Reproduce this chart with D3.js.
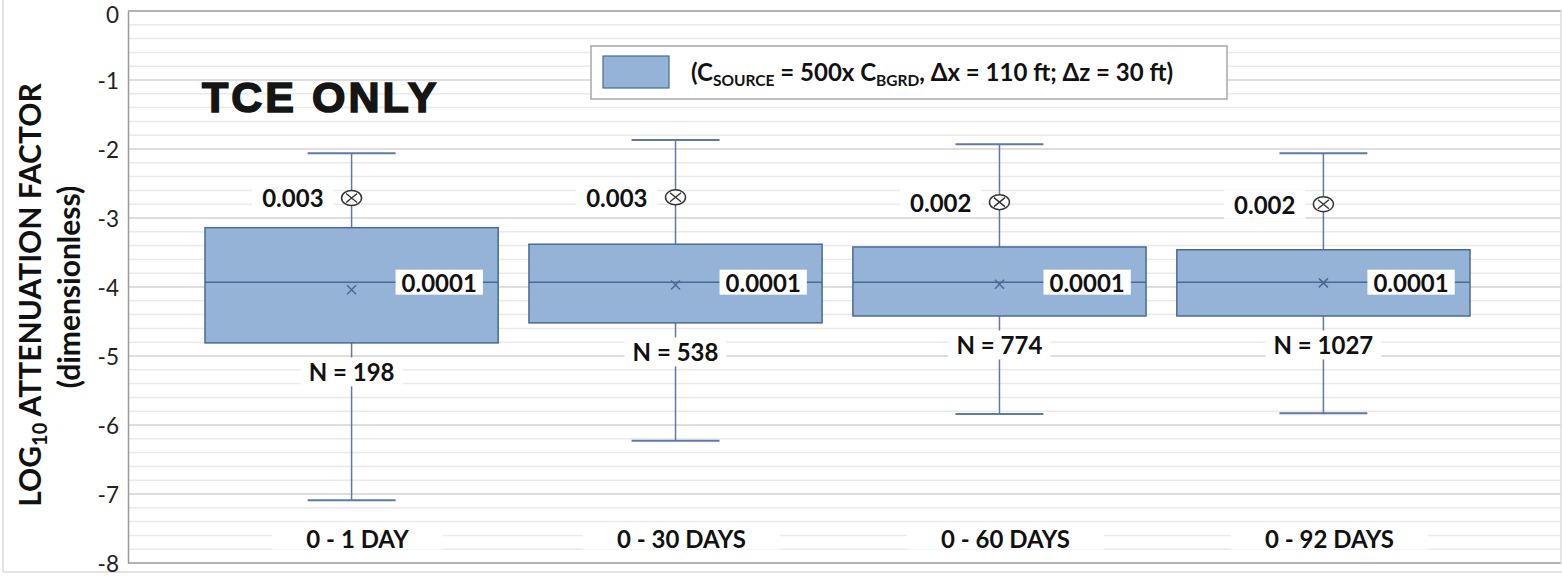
<!DOCTYPE html>
<html>
<head>
<meta charset="utf-8">
<script src="https://cdn.jsdelivr.net/npm/d3@7"></script>
<style>
  html, body { margin: 0; padding: 0; background: #fff; }
  svg { display: block; }
</style>
</head>
<body>
<svg id="chart" width="1562" height="577"></svg>
<script>
// ---- data (log10 attenuation factor) ----
const categories   = ["0 - 1 DAY", "0 - 30 DAYS", "0 - 60 DAYS", "0 - 92 DAYS"];
const whiskerHigh  = [-2.06, -1.87, -1.93, -2.06];
const q3           = [-3.14, -3.38, -3.42, -3.46];
const median       = [-3.93, -3.93, -3.93, -3.93];
const q1           = [-4.81, -4.52, -4.42, -4.42];
const whiskerLow   = [-7.09, -6.23, -5.84, -5.83];
const mean         = [-4.04, -3.97, -3.96, -3.94];
const upperMarker  = [-2.71, -2.70, -2.77, -2.80];
const upperLabels  = ["0.003", "0.003", "0.002", "0.002"];
const medianLabels = ["0.0001", "0.0001", "0.0001", "0.0001"];
const counts       = [198, 538, 774, 1027];
const yTicks       = [-8, -7, -6, -5, -4, -3, -2, -1, 0];

// ---- styles ----
const BOX_FILL = "#95b3d7";
const BOX_STROKE = "#4a6a96";
const WHISKER = "#5b7aa6";
const LABEL_FONT = "Lato, 'Open Sans', sans-serif";

const svg = d3.select("#chart");
const plot = { left: 128, right: 1561, top: 11, bottom: 563 };

const y = d3.scaleLinear().domain([-8, 0]).range([plot.bottom, plot.top]);
const x = d3.scaleBand().domain(categories).range([205, 1470]).paddingInner(0.095);

const rows = categories.map((c, i) => ({
  cat: c, hi: whiskerHigh[i], q3: q3[i], med: median[i], q1: q1[i], lo: whiskerLow[i],
  mean: mean[i], marker: upperMarker[i], markerLabel: upperLabels[i],
  medLabel: medianLabels[i], n: counts[i]
}));

// outer chart frame
svg.append("line").attr("x1", 3).attr("x2", 3).attr("y1", 0).attr("y2", 572)
  .attr("stroke", "#dadada").attr("stroke-width", 1.5);
svg.append("line").attr("x1", 3).attr("x2", 1562).attr("y1", 572).attr("y2", 572)
  .attr("stroke", "#dadada").attr("stroke-width", 1.5);

// gridlines: minor every 0.2, major every 1
const grid = svg.append("g");
const minorVals = d3.range(0, 41).map(i => -8 + i * 0.2).filter(v => Math.abs(v - Math.round(v)) > 1e-6);
grid.selectAll("line.minor").data(minorVals).join("line")
  .attr("class", "minor")
  .attr("x1", plot.left).attr("x2", plot.right)
  .attr("y1", d => y(d)).attr("y2", d => y(d))
  .attr("stroke", "#eaeaea").attr("stroke-width", 1.5);
grid.selectAll("line.major").data(yTicks.filter(v => v > -8 && v < 0)).join("line")
  .attr("class", "major")
  .attr("x1", plot.left).attr("x2", plot.right)
  .attr("y1", d => y(d)).attr("y2", d => y(d))
  .attr("stroke", "#d3d3d3").attr("stroke-width", 1.5);

// plot frame
const frame = svg.append("g").attr("stroke", "#9a9a9a").attr("stroke-width", 1.5);
frame.append("line").attr("x1", plot.left).attr("x2", plot.right).attr("y1", plot.top).attr("y2", plot.top);
frame.append("line").attr("x1", plot.left).attr("x2", plot.right).attr("y1", plot.bottom).attr("y2", plot.bottom);
frame.append("line").attr("x1", plot.right).attr("x2", plot.right).attr("y1", plot.top).attr("y2", plot.bottom)
  .attr("stroke", "#dcdcdc");

// y axis
const yAxis = svg.append("g")
  .attr("transform", `translate(${plot.left},0)`)
  .call(d3.axisLeft(y).tickValues(yTicks).tickSize(0).tickPadding(9).tickFormat(d => String(d)));
yAxis.select(".domain").attr("stroke", "#9a9a9a").attr("stroke-width", 1.5);
yAxis.selectAll("text")
  .attr("dy", d => d === 0 ? "0.5em" : "0.36em")
  .attr("font-family", LABEL_FONT).attr("font-size", 22.5).attr("fill", "#222");

// y axis title
const t1 = svg.append("text")
  .attr("transform", `translate(41,295) rotate(-90)`)
  .attr("text-anchor", "middle")
  .attr("font-family", LABEL_FONT).attr("font-weight", 700).attr("font-size", 30).attr("fill", "#111");
t1.append("tspan").text("LOG");
t1.append("tspan").text("10").attr("font-size", 20).attr("dy", 6);
t1.append("tspan").text(" ATTENUATION FACTOR").attr("dy", -6);
svg.append("text")
  .attr("transform", `translate(80,287) rotate(-90)`)
  .attr("text-anchor", "middle")
  .attr("font-family", LABEL_FONT).attr("font-weight", 700).attr("font-size", 30).attr("fill", "#111")
  .text("(dimensionless)");

// boxes
const boxes = svg.append("g");
const bw = x.bandwidth();
const cx = d => x(d.cat) + bw / 2;
const capW = bw * 0.3;

boxes.selectAll("line.whisker-hi").data(rows).join("line")
  .attr("x1", cx).attr("x2", cx).attr("y1", d => y(d.hi)).attr("y2", d => y(d.q3))
  .attr("stroke", WHISKER).attr("stroke-width", 1.5);
boxes.selectAll("line.whisker-lo").data(rows).join("line")
  .attr("x1", cx).attr("x2", cx).attr("y1", d => y(d.q1)).attr("y2", d => y(d.lo))
  .attr("stroke", WHISKER).attr("stroke-width", 1.5);
boxes.selectAll("line.cap-hi").data(rows).join("line")
  .attr("x1", d => cx(d) - capW / 2).attr("x2", d => cx(d) + capW / 2)
  .attr("y1", d => y(d.hi)).attr("y2", d => y(d.hi))
  .attr("stroke", WHISKER).attr("stroke-width", 2);
boxes.selectAll("line.cap-lo").data(rows).join("line")
  .attr("x1", d => cx(d) - capW / 2).attr("x2", d => cx(d) + capW / 2)
  .attr("y1", d => y(d.lo)).attr("y2", d => y(d.lo))
  .attr("stroke", WHISKER).attr("stroke-width", 2);
boxes.selectAll("rect.box").data(rows).join("rect")
  .attr("x", d => x(d.cat)).attr("width", bw)
  .attr("y", d => y(d.q3)).attr("height", d => y(d.q1) - y(d.q3))
  .attr("fill", BOX_FILL).attr("stroke", BOX_STROKE).attr("stroke-width", 1.5);
boxes.selectAll("line.median").data(rows).join("line")
  .attr("x1", d => x(d.cat)).attr("x2", d => x(d.cat) + bw)
  .attr("y1", d => y(d.med)).attr("y2", d => y(d.med))
  .attr("stroke", BOX_STROKE).attr("stroke-width", 1.5);

// mean markers (x)
const ms = 4.5;
boxes.selectAll("path.mean").data(rows).join("path")
  .attr("d", d => {
    const px = cx(d), py = y(d.mean);
    return `M${px - ms},${py - ms}L${px + ms},${py + ms}M${px - ms},${py + ms}L${px + ms},${py - ms}`;
  })
  .attr("stroke", BOX_STROKE).attr("stroke-width", 1.5).attr("fill", "none");

// helper: text with white backing box
function label(g, str, px, py, anchor, size, padX, padY) {
  const grp = g.append("g");
  const rect = grp.append("rect").attr("fill", "#fff");
  const t = grp.append("text")
    .attr("x", px).attr("y", py)
    .attr("text-anchor", anchor).attr("dominant-baseline", "central")
    .attr("font-family", LABEL_FONT).attr("font-weight", 700)
    .attr("font-size", size).attr("fill", "#111")
    .text(str);
  const b = t.node().getBBox();
  rect.attr("x", b.x - padX).attr("y", b.y - padY)
    .attr("width", b.width + 2 * padX).attr("height", b.height + 2 * padY);
  return grp;
}

const labels = svg.append("g");
rows.forEach(d => {
  const c = cx(d);
  // sample count under the box
  label(labels, `N = ${d.n}`, c, y(d.q1) + 29, "middle", 24, 8, 0);
  // median value label inside the box
  label(labels, d.medLabel, c + 50, y(d.med), "start", 24, 6, -2);
  // upper marker value label
  label(labels, d.markerLabel, c - 28, y(d.marker), "end", 24, 10, 0);
  // category label
  label(labels, d.cat, c + 6, 538, "middle", 24, 34, -3);
});

// upper markers (circle with cross)
const markers = svg.append("g");
rows.forEach(d => {
  const px = cx(d), py = y(d.marker);
  const g = markers.append("g").attr("transform", `translate(${px},${py})`);
  g.append("ellipse").attr("rx", 10).attr("ry", 7.5)
    .attr("fill", "#fff").attr("stroke", "#333").attr("stroke-width", 1.5);
  g.append("path").attr("d", "M-5.5,-4.5L5.5,4.5M-5.5,4.5L5.5,-4.5")
    .attr("stroke", "#333").attr("stroke-width", 1.4);
});

// legend
const legend = svg.append("g");
legend.append("rect").attr("x", 591).attr("y", 46).attr("width", 636).attr("height", 53)
  .attr("fill", "#fff").attr("stroke", "#a8a8a8").attr("stroke-width", 1.5);
legend.append("rect").attr("x", 603).attr("y", 56).attr("width", 66).attr("height", 32)
  .attr("fill", BOX_FILL).attr("stroke", BOX_STROKE).attr("stroke-width", 1.2);
const lt = legend.append("text")
  .attr("x", 691).attr("y", 81)
  .attr("font-family", LABEL_FONT).attr("font-weight", 700).attr("font-size", 24).attr("fill", "#111");
lt.append("tspan").text("(C");
lt.append("tspan").text("SOURCE").attr("font-size", 15.5).attr("dy", 5);
lt.append("tspan").text(" = 500x C").attr("dy", -5);
lt.append("tspan").text("BGRD").attr("font-size", 15.5).attr("dy", 5);
lt.append("tspan").text(", \u0394x = 110 ft; \u0394z = 30 ft)").attr("dy", -5);

// chart tag
svg.append("text")
  .attr("x", 202).attr("y", 112)
  .attr("font-family", "'Liberation Sans', Arial, sans-serif").attr("font-weight", 700)
  .attr("font-size", 43).attr("letter-spacing", 3)
  .attr("fill", "#151515")
  .attr("stroke", "#151515").attr("stroke-width", 1.6)
  .text("TCE ONLY");
</script>
</body>
</html>
